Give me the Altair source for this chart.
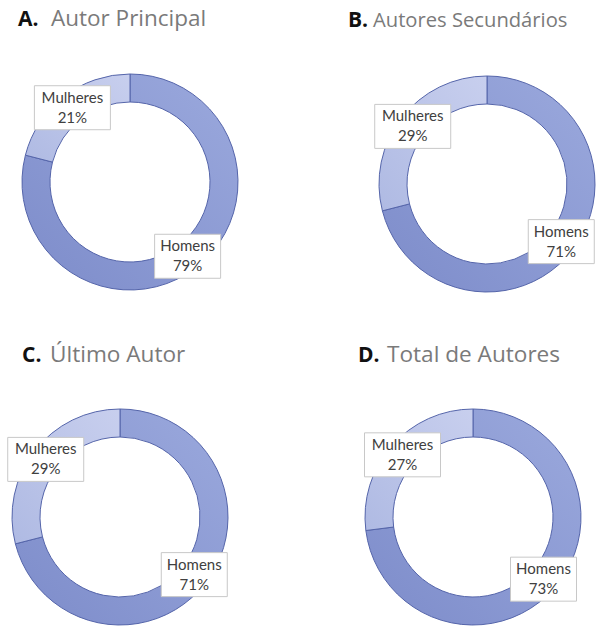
import altair as alt
import pandas as pd

letras = ["A.", "B.", "C.", "D."]
titulos = ["Autor Principal", "Autores Secundários", "Último Autor", "Total de Autores"]
categorias = ["Homens", "Mulheres"]
homens = [79, 71, 71, 73]
mulheres = [21, 29, 29, 27]

layout = [
    dict(w=300, h=320, cx=130, cy=182, lx=18, tx=51, ty=26, fs=22.5),
    dict(w=300, h=320, cx=187, cy=184, lx=48, tx=73, ty=27, fs=20.2),
    dict(w=300, h=313, cx=120, cy=197, lx=22, tx=50, ty=42, fs=22.6),
    dict(w=300, h=313, cx=173, cy=197, lx=58, tx=87, ty=42, fs=22.6),
]

R_OUT, R_IN = 108, 80
R_LAB = 94

grad = {
    "Homens": ("#9ba9dd", "#7d8cca"),
    "Mulheres": ("#c8cfee", "#afbae3"),
}


def gradiente(c0, c1):
    return alt.Gradient(
        gradient="linear",
        stops=[alt.GradientStop(color=c0, offset=0), alt.GradientStop(color=c1, offset=1)],
        x1=1, y1=0, x2=0, y2=1,
    )


def painel(i):
    L = layout[i]
    df = pd.DataFrame({"sexo": categorias, "pct": [homens[i], mulheres[i]], "ordem": [1, 2]})
    pos = (
        alt.Chart(df)
        .transform_window(cum="sum(pct)", sort=[alt.SortField("ordem")], frame=[None, 0])
        .transform_joinaggregate(total="sum(pct)")
        .transform_calculate(
            t0="(datum.cum - datum.pct)/datum.total*2*PI",
            t1="datum.cum/datum.total*2*PI",
            mid="(datum.cum - datum.pct/2)/datum.total*2*PI",
        )
        .transform_calculate(
            bx=f"{L['cx']} + {R_LAB}*sin(datum.mid)",
            by=f"{L['cy']} - {R_LAB}*cos(datum.mid)",
            hw="datum.sexo == 'Mulheres' ? 38 : 33",
            label="datum.sexo + '\\n' + datum.pct + '%'",
        )
        .transform_calculate(
            x1="datum.bx - datum.hw",
            x2="datum.bx + datum.hw",
            y1="datum.by - 22",
            y2="datum.by + 22",
        )
    )
    arcs = []
    for cat in categorias:
        c0, c1 = grad[cat]
        arcs.append(
            pos.transform_filter(alt.datum.sexo == cat)
            .mark_arc(radius=R_OUT, radius2=R_IN, stroke="#5565aa", strokeWidth=1,
                      fill=gradiente(c0, c1))
            .encode(
                theta=alt.Theta("t0:Q", scale=None),
                theta2="t1:Q",
                x=alt.value(L["cx"]),
                y=alt.value(L["cy"]),
            )
        )
    box = pos.mark_rect(fill="white", stroke="#c8c8c8", strokeWidth=1).encode(
        x=alt.X("x1:Q", scale=None, axis=None),
        x2="x2:Q",
        y=alt.Y("y1:Q", scale=None, axis=None),
        y2="y2:Q",
    )
    txt = pos.mark_text(
        font="Lato", fontSize=15, color="#404040", lineBreak="\n", lineHeight=20,
        baseline="middle", align="center", dy=-10,
    ).encode(
        x=alt.X("bx:Q", scale=None, axis=None),
        y=alt.Y("by:Q", scale=None, axis=None),
        text="label:N",
    )
    tl = alt.Chart(pd.DataFrame({"t": [letras[i]]})).mark_text(
        font="Open Sans", fontSize=21, fontWeight="bold", color="#111111",
        align="left", baseline="alphabetic",
    ).encode(x=alt.value(L["lx"]), y=alt.value(L["ty"]), text="t:N")
    tt = alt.Chart(pd.DataFrame({"t": [titulos[i]]})).mark_text(
        font="Open Sans", fontSize=L["fs"], color="#7a7a7a",
        align="left", baseline="alphabetic",
    ).encode(x=alt.value(L["tx"]), y=alt.value(L["ty"]), text="t:N")
    return alt.layer(*arcs, box, txt, tl, tt).properties(width=L["w"], height=L["h"])


top = alt.hconcat(painel(0), painel(1), spacing=0)
bottom = alt.hconcat(painel(2), painel(3), spacing=0)
chart = (
    alt.vconcat(top, bottom, spacing=0)
    .properties(padding=0, background="white")
    .configure_view(stroke=None)
)
chart.save("out.html", embed_options={"renderer": "svg", "actions": False})
